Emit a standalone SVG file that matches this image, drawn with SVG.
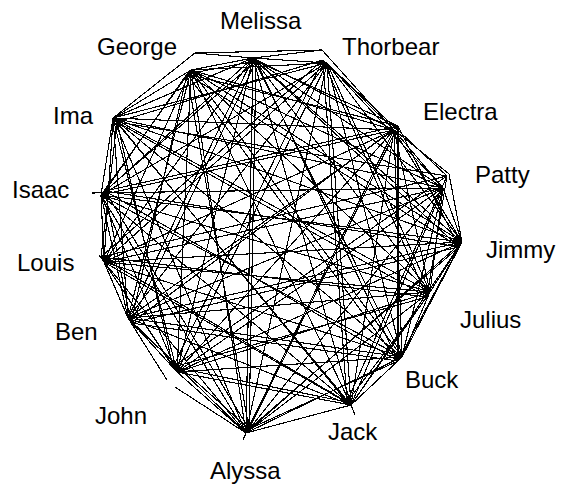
<svg xmlns="http://www.w3.org/2000/svg" width="561" height="487" viewBox="0 0 561 487">
<style>
.lbl{font-family:"Liberation Sans",Arial,sans-serif;font-size:24px;fill:#000}
#edges line{stroke:#000;stroke-width:1.1;shape-rendering:crispEdges}
</style>
<rect width="561" height="487" fill="#fff"/>
<g id="edges">
<line x1="253" y1="58" x2="327" y2="63"/>
<line x1="253" y1="58" x2="394" y2="130"/>
<line x1="253" y1="58" x2="443" y2="188"/>
<line x1="253" y1="58" x2="462" y2="242"/>
<line x1="253" y1="58" x2="430" y2="292"/>
<line x1="253" y1="58" x2="402" y2="357"/>
<line x1="253" y1="58" x2="351" y2="405"/>
<line x1="253" y1="58" x2="246" y2="433"/>
<line x1="253" y1="58" x2="177" y2="372"/>
<line x1="253" y1="58" x2="128" y2="318"/>
<line x1="253" y1="58" x2="104" y2="262"/>
<line x1="253" y1="58" x2="101" y2="195"/>
<line x1="253" y1="58" x2="113" y2="118"/>
<line x1="253" y1="58" x2="191" y2="70"/>
<line x1="327" y1="63" x2="394" y2="130"/>
<line x1="327" y1="63" x2="443" y2="188"/>
<line x1="327" y1="63" x2="462" y2="242"/>
<line x1="327" y1="63" x2="430" y2="292"/>
<line x1="327" y1="63" x2="402" y2="357"/>
<line x1="327" y1="63" x2="351" y2="405"/>
<line x1="327" y1="63" x2="246" y2="433"/>
<line x1="327" y1="63" x2="177" y2="372"/>
<line x1="327" y1="63" x2="128" y2="318"/>
<line x1="327" y1="63" x2="104" y2="262"/>
<line x1="327" y1="63" x2="101" y2="195"/>
<line x1="327" y1="63" x2="113" y2="118"/>
<line x1="327" y1="63" x2="191" y2="70"/>
<line x1="394" y1="130" x2="443" y2="188"/>
<line x1="394" y1="130" x2="462" y2="242"/>
<line x1="394" y1="130" x2="430" y2="292"/>
<line x1="394" y1="130" x2="402" y2="357"/>
<line x1="394" y1="130" x2="351" y2="405"/>
<line x1="394" y1="130" x2="246" y2="433"/>
<line x1="394" y1="130" x2="177" y2="372"/>
<line x1="394" y1="130" x2="128" y2="318"/>
<line x1="394" y1="130" x2="104" y2="262"/>
<line x1="394" y1="130" x2="101" y2="195"/>
<line x1="394" y1="130" x2="113" y2="118"/>
<line x1="394" y1="130" x2="191" y2="70"/>
<line x1="443" y1="188" x2="462" y2="242"/>
<line x1="443" y1="188" x2="430" y2="292"/>
<line x1="443" y1="188" x2="402" y2="357"/>
<line x1="443" y1="188" x2="351" y2="405"/>
<line x1="443" y1="188" x2="246" y2="433"/>
<line x1="443" y1="188" x2="177" y2="372"/>
<line x1="443" y1="188" x2="128" y2="318"/>
<line x1="443" y1="188" x2="104" y2="262"/>
<line x1="443" y1="188" x2="92" y2="193"/>
<line x1="443" y1="188" x2="113" y2="118"/>
<line x1="443" y1="188" x2="191" y2="70"/>
<line x1="462" y1="242" x2="430" y2="292"/>
<line x1="462" y1="242" x2="402" y2="357"/>
<line x1="462" y1="242" x2="351" y2="405"/>
<line x1="462" y1="242" x2="246" y2="433"/>
<line x1="462" y1="242" x2="177" y2="372"/>
<line x1="462" y1="242" x2="128" y2="318"/>
<line x1="462" y1="242" x2="104" y2="262"/>
<line x1="462" y1="242" x2="101" y2="195"/>
<line x1="462" y1="242" x2="113" y2="118"/>
<line x1="462" y1="242" x2="191" y2="70"/>
<line x1="430" y1="292" x2="402" y2="357"/>
<line x1="430" y1="292" x2="351" y2="405"/>
<line x1="430" y1="292" x2="246" y2="433"/>
<line x1="430" y1="292" x2="177" y2="372"/>
<line x1="430" y1="292" x2="128" y2="318"/>
<line x1="430" y1="292" x2="104" y2="262"/>
<line x1="430" y1="292" x2="101" y2="195"/>
<line x1="430" y1="292" x2="113" y2="118"/>
<line x1="430" y1="292" x2="191" y2="70"/>
<line x1="402" y1="357" x2="351" y2="405"/>
<line x1="402" y1="357" x2="246" y2="433"/>
<line x1="402" y1="357" x2="177" y2="372"/>
<line x1="402" y1="357" x2="128" y2="318"/>
<line x1="402" y1="357" x2="104" y2="262"/>
<line x1="402" y1="357" x2="101" y2="195"/>
<line x1="402" y1="357" x2="113" y2="118"/>
<line x1="402" y1="357" x2="191" y2="70"/>
<line x1="351" y1="405" x2="246" y2="433"/>
<line x1="351" y1="405" x2="177" y2="372"/>
<line x1="351" y1="405" x2="128" y2="318"/>
<line x1="351" y1="405" x2="104" y2="262"/>
<line x1="351" y1="405" x2="101" y2="195"/>
<line x1="351" y1="405" x2="113" y2="118"/>
<line x1="351" y1="405" x2="191" y2="70"/>
<line x1="246" y1="433" x2="177" y2="372"/>
<line x1="246" y1="433" x2="128" y2="318"/>
<line x1="246" y1="433" x2="104" y2="262"/>
<line x1="246" y1="433" x2="101" y2="195"/>
<line x1="246" y1="433" x2="113" y2="118"/>
<line x1="246" y1="433" x2="191" y2="70"/>
<line x1="177" y1="372" x2="128" y2="318"/>
<line x1="177" y1="372" x2="104" y2="262"/>
<line x1="177" y1="372" x2="101" y2="195"/>
<line x1="177" y1="372" x2="113" y2="118"/>
<line x1="177" y1="372" x2="191" y2="70"/>
<line x1="128" y1="318" x2="104" y2="262"/>
<line x1="128" y1="318" x2="101" y2="195"/>
<line x1="128" y1="318" x2="113" y2="118"/>
<line x1="128" y1="318" x2="191" y2="70"/>
<line x1="104" y1="262" x2="101" y2="195"/>
<line x1="104" y1="262" x2="113" y2="118"/>
<line x1="104" y1="262" x2="191" y2="70"/>
<line x1="101" y1="195" x2="113" y2="118"/>
<line x1="101" y1="195" x2="191" y2="70"/>
<line x1="113" y1="118" x2="191" y2="70"/>
<line x1="195" y1="53" x2="253" y2="58"/>
<line x1="195" y1="53" x2="322" y2="50"/>
<line x1="253" y1="58" x2="322" y2="50"/>
<line x1="322" y1="50" x2="394" y2="130"/>
<line x1="195" y1="53" x2="113" y2="118"/>
<line x1="449" y1="174" x2="394" y2="130"/>
<line x1="449" y1="174" x2="462" y2="242"/>
<line x1="175" y1="387" x2="246" y2="433"/>
<line x1="167" y1="380" x2="128" y2="318"/>
<line x1="246" y1="433" x2="243" y2="440"/>
<line x1="351" y1="405" x2="355" y2="415"/>
<line x1="104" y1="262" x2="99" y2="255"/>
<line x1="256" y1="61" x2="398" y2="126"/>
<line x1="256" y1="61" x2="459" y2="247"/>
<line x1="256" y1="61" x2="398" y2="361"/>
<line x1="256" y1="61" x2="249" y2="429"/>
<line x1="256" y1="61" x2="131" y2="323"/>
<line x1="256" y1="61" x2="105" y2="191"/>
<line x1="256" y1="61" x2="187" y2="74"/>
<line x1="323" y1="60" x2="447" y2="176"/>
<line x1="323" y1="60" x2="427" y2="297"/>
<line x1="323" y1="60" x2="347" y2="402"/>
<line x1="323" y1="60" x2="173" y2="367"/>
<line x1="323" y1="60" x2="101" y2="257"/>
<line x1="323" y1="60" x2="117" y2="122"/>
<line x1="398" y1="126" x2="459" y2="247"/>
<line x1="398" y1="126" x2="398" y2="361"/>
<line x1="398" y1="126" x2="249" y2="429"/>
<line x1="398" y1="126" x2="131" y2="323"/>
<line x1="398" y1="126" x2="105" y2="191"/>
<line x1="398" y1="126" x2="187" y2="74"/>
<line x1="447" y1="176" x2="427" y2="297"/>
<line x1="447" y1="176" x2="347" y2="402"/>
<line x1="447" y1="176" x2="173" y2="367"/>
<line x1="447" y1="176" x2="101" y2="257"/>
<line x1="447" y1="176" x2="117" y2="122"/>
<line x1="459" y1="247" x2="398" y2="361"/>
<line x1="459" y1="247" x2="249" y2="429"/>
<line x1="459" y1="247" x2="131" y2="323"/>
<line x1="459" y1="247" x2="105" y2="191"/>
<line x1="459" y1="247" x2="187" y2="74"/>
<line x1="427" y1="297" x2="347" y2="402"/>
<line x1="427" y1="297" x2="173" y2="367"/>
<line x1="427" y1="297" x2="101" y2="257"/>
<line x1="427" y1="297" x2="117" y2="122"/>
<line x1="398" y1="361" x2="249" y2="429"/>
<line x1="398" y1="361" x2="131" y2="323"/>
<line x1="398" y1="361" x2="105" y2="191"/>
<line x1="398" y1="361" x2="187" y2="74"/>
<line x1="347" y1="402" x2="173" y2="367"/>
<line x1="347" y1="402" x2="101" y2="257"/>
<line x1="347" y1="402" x2="117" y2="122"/>
<line x1="249" y1="429" x2="131" y2="323"/>
<line x1="249" y1="429" x2="105" y2="191"/>
<line x1="249" y1="429" x2="187" y2="74"/>
<line x1="173" y1="367" x2="101" y2="257"/>
<line x1="173" y1="367" x2="117" y2="122"/>
<line x1="131" y1="323" x2="105" y2="191"/>
<line x1="131" y1="323" x2="187" y2="74"/>
<line x1="101" y1="257" x2="117" y2="122"/>
<line x1="105" y1="191" x2="187" y2="74"/>
</g>
<g id="node-melissa"><text class="lbl" x="220" y="29">Melissa</text></g>
<g id="node-george"><text class="lbl" x="97" y="55">George</text></g>
<g id="node-thorbear"><text class="lbl" x="342" y="55">Thorbear</text></g>
<g id="node-electra"><text class="lbl" x="423" y="120">Electra</text></g>
<g id="node-patty"><text class="lbl" x="475" y="183">Patty</text></g>
<g id="node-jimmy"><text class="lbl" x="486" y="258">Jimmy</text></g>
<g id="node-julius"><text class="lbl" x="460" y="328">Julius</text></g>
<g id="node-buck"><text class="lbl" x="405" y="388">Buck</text></g>
<g id="node-jack"><text class="lbl" x="328" y="440">Jack</text></g>
<g id="node-alyssa"><text class="lbl" x="210" y="479">Alyssa</text></g>
<g id="node-john"><text class="lbl" x="95" y="424">John</text></g>
<g id="node-ben"><text class="lbl" x="55" y="340">Ben</text></g>
<g id="node-louis"><text class="lbl" x="17" y="271">Louis</text></g>
<g id="node-isaac"><text class="lbl" x="12" y="198">Isaac</text></g>
<g id="node-ima"><text class="lbl" x="53" y="124">Ima</text></g>
</svg>
